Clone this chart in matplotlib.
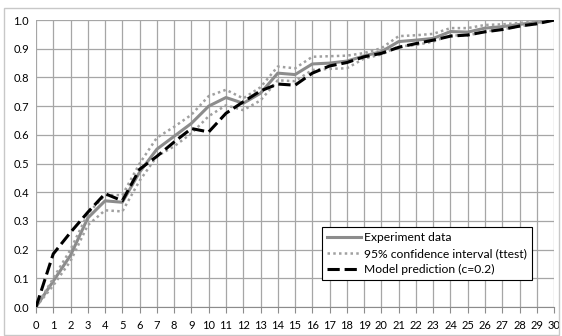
import matplotlib
matplotlib.use('Agg')
import matplotlib.pyplot as plt
from matplotlib.patches import Rectangle

plt.rcParams['font.family'] = ['Lato', 'DejaVu Sans']

x = list(range(31))
experiment = [0, 0.09, 0.18, 0.31, 0.37, 0.365, 0.47, 0.55, 0.595, 0.64, 0.70, 0.73, 0.71, 0.745, 0.815,
              0.81, 0.847, 0.85, 0.857, 0.875, 0.89, 0.925, 0.93, 0.936, 0.96, 0.958, 0.972, 0.977, 0.985,
              0.992, 1.0]
ci_upper = [0, 0.10, 0.20, 0.325, 0.39, 0.39, 0.50, 0.59, 0.628, 0.67, 0.735, 0.757, 0.727, 0.766, 0.838,
            0.832, 0.872, 0.874, 0.876, 0.885, 0.902, 0.944, 0.947, 0.952, 0.972, 0.972, 0.983, 0.985, 0.99,
            0.995, 1.0]
ci_lower = [0, 0.075, 0.16, 0.285, 0.337, 0.333, 0.44, 0.525, 0.56, 0.605, 0.665, 0.703, 0.686, 0.72, 0.79,
            0.787, 0.826, 0.83, 0.832, 0.866, 0.88, 0.908, 0.913, 0.925, 0.947, 0.946, 0.96, 0.968, 0.978,
            0.987, 1.0]
model = [0, 0.185, 0.26, 0.33, 0.395, 0.37, 0.48, 0.525, 0.575, 0.622, 0.61, 0.675, 0.715, 0.753, 0.777,
         0.773, 0.815, 0.84, 0.852, 0.872, 0.884, 0.905, 0.918, 0.93, 0.944, 0.948, 0.959, 0.967, 0.979,
         0.987, 1.0]

fig = plt.figure(figsize=(5.62, 3.36), dpi=100)
ax = fig.add_axes([0.064, 0.0863, 0.922, 0.854])

# chart area border
fig.patches.append(Rectangle((0.007, 0.004), 0.988, 0.972, transform=fig.transFigure,
                             fill=False, edgecolor='#c8c8c8', linewidth=1))

ax.plot(x, experiment, color='#8c8c8c', linewidth=2.2, label='Experiment data', zorder=3)
ax.plot(x, ci_upper, color='#a0a0a0', linewidth=1.8, linestyle=(0, (1, 1.3)),
        label='95% confidence interval (ttest)', zorder=3)
ax.plot(x, ci_lower, color='#a0a0a0', linewidth=1.8, linestyle=(0, (1, 1.3)), zorder=3)
ax.plot(x, model, color='black', linewidth=2.2, linestyle=(0, (4, 1.6)),
        label='Model prediction (c=0.2)', zorder=4)

ax.set_xlim(0, 30)
ax.set_ylim(0, 1.0)
ax.set_xticks(x)
ax.set_yticks([i / 10 for i in range(11)])
ax.set_yticklabels(['%.1f' % (i / 10) for i in range(11)])
ax.grid(True, color='#a6a6a6', linewidth=0.9)
ax.set_axisbelow(True)
for s in ['top', 'right', 'left']:
    ax.spines[s].set_visible(False)
ax.spines['bottom'].set_color('#8c8c8c')
ax.tick_params(axis='x', length=4, color='#8c8c8c', labelsize=8, pad=5)
ax.tick_params(axis='y', length=0, labelsize=8, pad=5)

leg = ax.legend(loc='lower right', bbox_to_anchor=(0.969, 0.073), fontsize=8.7, fancybox=False,
                framealpha=1, edgecolor='black', handlelength=2.8, borderpad=0.4, labelspacing=0.42,
                handletextpad=0.3)
leg.get_frame().set_linewidth(0.8)

fig.savefig('out.png', dpi=100)
